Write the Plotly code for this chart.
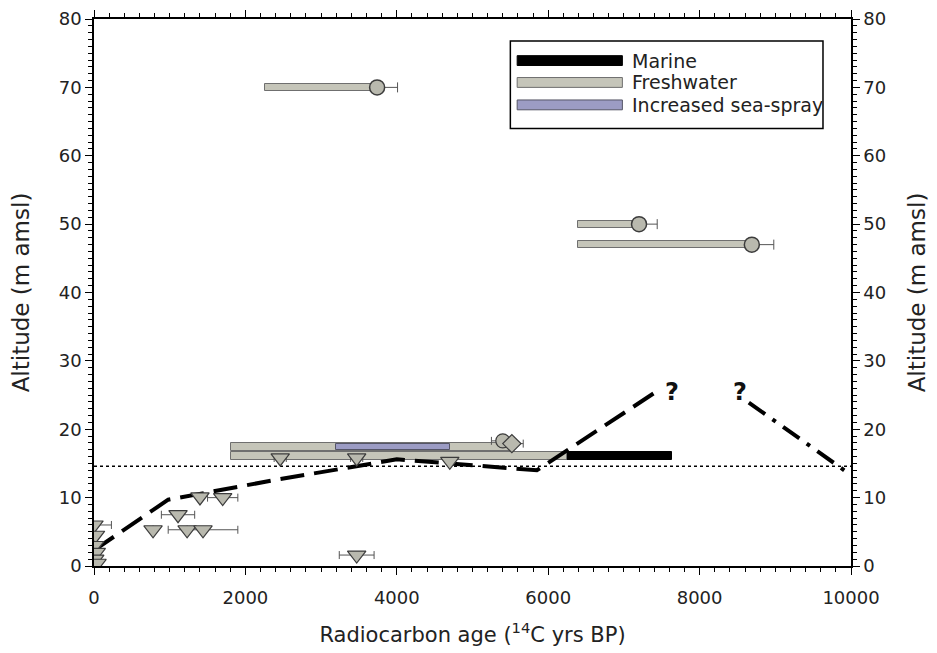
import plotly.graph_objects as go

# ---------------- data ----------------
# Freshwater age ranges (horizontal bars): start age, end age, altitude
fw_start = [2260, 6400, 6400, 1810, 1810]
fw_end = [3740, 7200, 8690, 5530, 6250]
fw_alt = [70, 50, 47, 17.4, 16.1]
fw_thick = [1.0, 1.0, 1.0, 1.2, 1.2]

# Marine range
marine_start = [6150]
marine_end = [7630]
marine_alt = [16.1]

# Increased sea-spray range
spray_start = [3200]
spray_end = [4700]
spray_alt = [17.4]

# Dated samples (circles) with 1-sigma errors
circ_age = [3740, 7200, 8690]
circ_alt = [70, 50, 47]
circ_err = [270, 240, 290]

# Cluster near 5500 BP
cl_age = [5400, 5520]
cl_alt = [18.3, 17.9]
cl_err = [150, 150]

# Triangles (limiting dates)
tri_age = [0, 20, 10, 30, 10, 40, 780, 1110, 1230, 1400, 1440, 1700, 2460, 3470, 4700, 3470]
tri_alt = [6.0, 4.5, 3.0, 2.0, 1.0, 0.4, 5.3, 7.5, 5.3, 10.1, 5.3, 10.0, 15.8, 15.8, 15.3, 1.6]
tri_err = [230, 0, 0, 0, 0, 0, 0, 220, 0, 0, 460, 200, 80, 80, 0, 230]

# Relative sea-level curve (dashed) and older segment (dash-dot)
sl_age = [0, 980, 2400, 4000, 4700, 5850, 7400]
sl_alt = [2.3, 9.7, 12.6, 15.6, 15.0, 14.0, 25.3]
dd_age = [8650, 10000]
dd_alt = [23.9, 13.3]

# Reference level (dotted)
ref_age = [0, 10000]
ref_alt = [14.6, 14.6]

# Question marks
q_age = [7640, 8530]
q_alt = [25.4, 25.4]

# Axis ticks
x_ticks = [0, 2000, 4000, 6000, 8000, 10000]
x_ticktext = ["0", "2000", "4000", "6000", "8000", "10000"]
y_ticks = [0, 10, 20, 30, 40, 50, 60, 70, 80]

# Legend entries
leg_labels = ["Marine", "Freshwater", "Increased sea-spray"]

FW_COL = "#c5c5b9"
FW_LINE = "#6f6f6f"
SPRAY_COL = "#9c9cc4"
MARK_FILL = "#b9b9ae"
MARK_LINE = "#3c3c3c"
FONT = "DejaVu Sans, Liberation Sans, Arial, sans-serif"
TXT = "#222222"

fig = go.Figure()

# Marine bar
fig.add_trace(go.Bar(
    orientation="h",
    y=marine_alt,
    base=marine_start,
    x=[e - s for s, e in zip(marine_start, marine_end)],
    width=[1.2],
    marker=dict(color="#000000", line=dict(color="#000000", width=1)),
    showlegend=False, hoverinfo="skip",
))

# Freshwater bars
fig.add_trace(go.Bar(
    orientation="h",
    y=fw_alt,
    base=fw_start,
    x=[e - s for s, e in zip(fw_start, fw_end)],
    width=fw_thick,
    marker=dict(color=FW_COL, line=dict(color=FW_LINE, width=1)),
    showlegend=False, hoverinfo="skip",
))

# Sea-spray bar
fig.add_trace(go.Bar(
    orientation="h",
    y=spray_alt,
    base=spray_start,
    x=[e - s for s, e in zip(spray_start, spray_end)],
    width=[0.75],
    marker=dict(color=SPRAY_COL, line=dict(color="#555566", width=1)),
    showlegend=False, hoverinfo="skip",
))

# Reference dotted line
fig.add_trace(go.Scatter(
    x=ref_age, y=ref_alt, mode="lines",
    line=dict(color="#000000", width=1.5, dash="dot"),
    showlegend=False, hoverinfo="skip",
))

# Sea level curve (dashed)
fig.add_trace(go.Scatter(
    x=sl_age, y=sl_alt, mode="lines",
    line=dict(color="#000000", width=4, dash="24px,10px"),
    showlegend=False, hoverinfo="skip",
))

# Older segment (dash-dot)
fig.add_trace(go.Scatter(
    x=dd_age, y=dd_alt, mode="lines",
    line=dict(color="#000000", width=4, dash="20px,9px,4px,9px"),
    showlegend=False, hoverinfo="skip",
))

# Triangles
fig.add_trace(go.Scatter(
    x=tri_age, y=tri_alt, mode="markers",
    marker=dict(symbol="triangle-down", size=16, color=MARK_FILL,
                line=dict(color=MARK_LINE, width=1.2)),
    error_x=dict(type="data", array=tri_err, color="#555555", thickness=1, width=4),
    showlegend=False, hoverinfo="skip",
))

# Cluster at ~5500
fig.add_trace(go.Scatter(
    x=cl_age, y=cl_alt, mode="markers",
    marker=dict(symbol=["circle", "diamond"], size=14, color=MARK_FILL,
                line=dict(color=MARK_LINE, width=1.2)),
    error_x=dict(type="data", array=cl_err, color="#555555", thickness=1, width=4),
    showlegend=False, hoverinfo="skip",
))

# Circles
fig.add_trace(go.Scatter(
    x=circ_age, y=circ_alt, mode="markers",
    marker=dict(symbol="circle", size=15, color=MARK_FILL,
                line=dict(color=MARK_LINE, width=1.5)),
    error_x=dict(type="data", symmetric=False, array=circ_err,
                 arrayminus=[0] * len(circ_err), color="#555555", thickness=1, width=5),
    showlegend=False, hoverinfo="skip",
))

# Invisible trace on right axis
fig.add_trace(go.Scatter(x=[0], y=[0], yaxis="y2", mode="markers",
                         marker=dict(opacity=0), showlegend=False, hoverinfo="skip"))

# Question marks
for qx, qy in zip(q_age, q_alt):
    fig.add_annotation(x=qx, y=qy, text="<b>?</b>", showarrow=False,
                       font=dict(size=24, color="#111111", family=FONT))

# Manual legend (paper coords)
fig.add_shape(type="rect", xref="paper", yref="paper",
              x0=0.550, x1=0.963, y0=0.800, y1=0.960,
              line=dict(color="#000000", width=1.5), fillcolor="white", layer="above")
leg_cols = ["#000000", FW_COL, SPRAY_COL]
leg_lines = ["#000000", FW_LINE, "#555566"]
leg_y = [0.924, 0.884, 0.843]
for lab, c, lc, yy in zip(leg_labels, leg_cols, leg_lines, leg_y):
    fig.add_shape(type="rect", xref="paper", yref="paper",
                  x0=0.559, x1=0.698, y0=yy - 0.009, y1=yy + 0.009,
                  line=dict(color=lc, width=1), fillcolor=c, layer="above")
    fig.add_annotation(xref="paper", yref="paper", x=0.708, y=yy, text=lab,
                       showarrow=False, xanchor="left", yanchor="middle",
                       font=dict(size=19, color=TXT, family=FONT))

axis_common = dict(
    showgrid=False, zeroline=False, showline=True, linecolor="#000000", linewidth=1.5,
    ticks="outside", ticklen=7, tickwidth=1.2, tickcolor="#000000",
    tickfont=dict(size=18, color=TXT, family=FONT),
    automargin=False,
)

fig.update_layout(
    width=937, height=653,
    # page body adds an 8px offset; margins compensate so the plot area sits at 94..851 x 19..566
    margin=dict(l=86, r=94, t=11, b=95),
    paper_bgcolor="white", plot_bgcolor="white",
    barmode="overlay",
    bargap=0,
    showlegend=False,
    font=dict(family=FONT, color=TXT),
    xaxis=dict(
        **axis_common,
        range=[0, 10000], tickvals=x_ticks, ticktext=x_ticktext, mirror="ticks",
        ticklabelstandoff=8,
        minor=dict(dtick=200, ticks="outside", ticklen=4, tickcolor="#000000", tickwidth=1),
        title=dict(text="Radiocarbon age (<sup>14</sup>C yrs BP)",
                   font=dict(size=21, color=TXT, family=FONT), standoff=20),
    ),
    yaxis=dict(
        **axis_common,
        range=[0, 80], tickvals=y_ticks, mirror=True,
        minor=dict(dtick=1, ticks="outside", ticklen=4, tickcolor="#000000", tickwidth=1),
        title=dict(text="Altitude (m amsl)",
                   font=dict(size=23, color=TXT, family=FONT), standoff=24),
    ),
    yaxis2=dict(
        **axis_common,
        range=[0, 80], tickvals=y_ticks, overlaying="y", side="right",
        minor=dict(dtick=1, ticks="outside", ticklen=4, tickcolor="#000000", tickwidth=1),
        title=dict(text="Altitude (m amsl)",
                   font=dict(size=23, color=TXT, family=FONT), standoff=24),
    ),
)

fig.write_html("out.html")
